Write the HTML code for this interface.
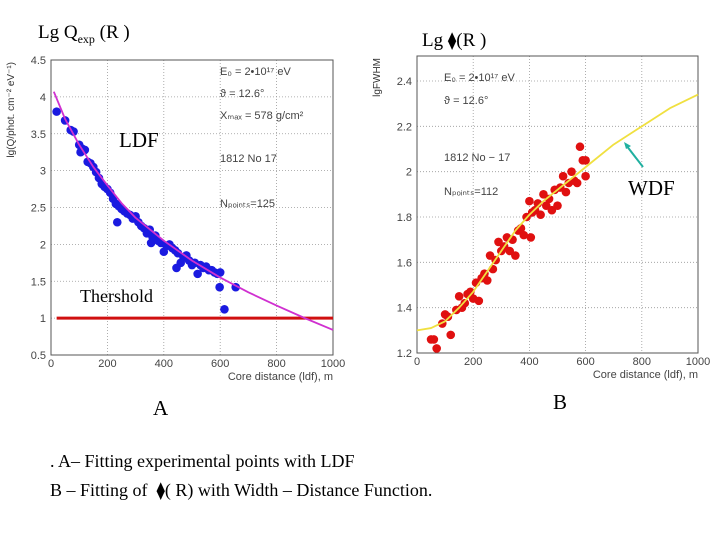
<!DOCTYPE html>
<html><head><meta charset="utf-8"><style>
body{margin:0;width:720px;height:540px;background:#fff;overflow:hidden;position:relative;font-family:"Liberation Serif",serif}
.t{position:absolute;font-family:"Liberation Serif",serif;color:#000;white-space:nowrap}
</style></head><body>
<svg id="s" width="720" height="540" style="position:absolute;left:0;top:0"></svg>
<div class="t" style="left:38px;top:22px;font-size:19px">Lg Q<sub style="font-size:12px">exp</sub> (R )</div>
<div class="t" style="left:422px;top:30px;font-size:19px">Lg <span style="font-size:17px">⧫</span>(R )</div>
<div class="t" style="left:119px;top:128px;font-size:21px">LDF</div>
<div class="t" style="left:628px;top:176px;font-size:21px">WDF</div>
<div class="t" style="left:80px;top:286px;font-size:18px">Thershold</div>
<div class="t" style="left:153px;top:396px;font-size:21px">A</div>
<div class="t" style="left:553px;top:390px;font-size:21px">B</div>
<div class="t" style="left:50px;top:451px;font-size:18px">. A– Fitting experimental points with LDF</div>
<div class="t" style="left:50px;top:480px;font-size:18px">B – Fitting of &nbsp;<span style="font-size:17px">⧫</span>( R) with Width – Distance Function.</div>
<script>
const ldfX=[20,50,70,80,100,105,110,120,130,140,150,160,170,180,190,200,210,220,230,235,240,250,260,270,280,290,300,310,320,330,340,350,355,360,370,380,390,400,410,420,430,440,445,450,460,470,480,490,500,510,520,530,540,550,560,570,580,590,600,598,615,655];
const ldfY=[3.8,3.68,3.55,3.53,3.35,3.25,3.3,3.28,3.12,3.1,3.05,2.98,2.9,2.82,2.78,2.75,2.7,2.62,2.55,2.3,2.52,2.48,2.45,2.42,2.4,2.35,2.38,2.3,2.25,2.22,2.15,2.2,2.02,2.1,2.12,2.05,2.02,1.9,1.98,2.0,1.95,1.92,1.68,1.88,1.75,1.82,1.85,1.78,1.72,1.75,1.6,1.72,1.68,1.7,1.65,1.65,1.62,1.6,1.62,1.42,1.12,1.42];
const ldfFitX=[10,50,100,150,200,250,300,400,500,600,700,800,900,1000];
const ldfFitY=[4.07,3.7,3.35,3.05,2.8,2.56,2.36,2.05,1.78,1.55,1.35,1.17,1.0,0.84];
const ldfXTicks=[0,200,400,600,800,1000];
const ldfYTicks=[0.5,1,1.5,2,2.5,3,3.5,4,4.5];
const threshold=1;
const wdfX=[50,60,70,90,100,110,120,140,150,160,170,180,190,200,210,220,230,240,250,260,270,280,290,300,310,320,330,340,350,360,370,380,390,400,405,410,420,430,440,450,460,470,480,490,500,510,520,530,540,550,560,570,580,590,600,600];
const wdfY=[1.26,1.26,1.22,1.33,1.37,1.36,1.28,1.39,1.45,1.4,1.42,1.46,1.47,1.44,1.51,1.43,1.53,1.55,1.52,1.63,1.57,1.61,1.69,1.65,1.67,1.71,1.65,1.7,1.63,1.74,1.75,1.72,1.8,1.87,1.71,1.82,1.83,1.86,1.81,1.9,1.85,1.88,1.83,1.92,1.85,1.93,1.98,1.91,1.95,2.0,1.96,1.95,2.11,2.05,1.98,2.05];
const wdfFitX=[0,50,100,150,200,250,300,350,400,450,500,600,700,800,900,1000];
const wdfFitY=[1.3,1.31,1.34,1.4,1.47,1.56,1.65,1.74,1.81,1.87,1.92,2.02,2.12,2.2,2.28,2.34];
const wdfXTicks=[0,200,400,600,800,1000];
const wdfYTicks=[1.2,1.4,1.6,1.8,2,2.2,2.4];

const svg=document.getElementById('s');const NS='http://www.w3.org/2000/svg';
function mk(tag,at,parent){const e=document.createElementNS(NS,tag);for(const k in at)e.setAttribute(k,at[k]);(parent||svg).appendChild(e);return e;}
function chart(o){
  const sx=v=>o.x0+(v-o.xmin)/(o.xmax-o.xmin)*(o.x1-o.x0);
  const sy=v=>o.yb+(v-o.ymin)/(o.ymax-o.ymin)*(o.yt-o.yb);
  const g=mk('g',{});
  
  
  o.xt.forEach(v=>{const l=mk('line',{x1:sx(v),x2:sx(v),y1:o.top,y2:o.yb,stroke:'#999','stroke-dasharray':'1,2','stroke-width':0.8},g);
    
    const t=mk('text',{x:sx(v),y:o.yb+12,'font-size':11,'text-anchor':'middle',fill:'#444','font-family':'Liberation Sans, sans-serif'},g);t.textContent=v;
    });
  o.yt2.forEach(v=>{const l=mk('line',{x1:o.x0,x2:o.x1,y1:sy(v),y2:sy(v),stroke:'#999','stroke-dasharray':'1,2','stroke-width':0.8},g);
    
    const t=mk('text',{x:o.x0-5,y:sy(v)+4,'font-size':11,'text-anchor':'end',fill:'#444','font-family':'Liberation Sans, sans-serif'},g);t.textContent=v;
    });
  const fr=mk('rect',{x:o.x0,y:o.top,width:o.x1-o.x0,height:o.yb-o.top,fill:'none',stroke:'#555','stroke-width':1},g);
  
  const xl=mk('text',{x:o.x1,y:o.yb+25,'font-size':11,'text-anchor':'end',fill:'#444','font-family':'Liberation Sans, sans-serif'},g);xl.textContent='Core distance (ldf), m';
  
  const yl=mk('text',{x:0,y:0,'font-size':10,'text-anchor':'end',fill:'#333','font-family':'Liberation Sans, sans-serif',transform:`translate(${o.ylx},${o.top+2}) rotate(-90)`},g);yl.textContent=o.ylab;
  
  o.notes.forEach(n=>{const t=mk('text',{x:n[0],y:n[1],'font-size':11,fill:'#444','font-family':'Liberation Sans, sans-serif'},g);t.textContent=n[2];
    });
  if(o.thr!==undefined){const l=mk('line',{x1:sx(20),x2:o.x1,y1:sy(o.thr),y2:sy(o.thr),stroke:'#d01010','stroke-width':3},g);
    }
  o.px.forEach((v,i)=>{const c=mk('circle',{cx:sx(v),cy:sy(o.py[i]),r:4.3,fill:o.pc},g);
    });
  const p=mk('polyline',{points:o.fx.map((v,i)=>sx(v)+','+sy(o.fy[i])).join(' '),fill:'none',stroke:o.fc,'stroke-width':1.8,'stroke-linejoin':'round'},g);
  
}
chart({name:'ldf-chart',x0:51,x1:333,xmin:0,xmax:1000,yb:355,yt:60,ymin:0.5,ymax:4.5,top:60,xt:ldfXTicks,yt2:ldfYTicks,ylx:14,ylab:'lg(Q/phot. cm⁻² eV⁻¹)',
 notes:[[220,75,'E₀ = 2•10¹⁷ eV'],[220,97,'ϑ = 12.6°'],[220,119,'Xₘₐₓ = 578 g/cm²'],[220,162,'1812 No 17'],[220,207,'Nₚₒᵢₙₜₛ=125']],
 thr:threshold,px:ldfX,py:ldfY,pc:'#1a1ae0',fx:ldfFitX,fy:ldfFitY,fc:'#d030d0'});
chart({name:'wdf-chart',x0:417,x1:698,xmin:0,xmax:1000,yb:353,yt:81,ymin:1.2,ymax:2.4,top:56,xt:wdfXTicks,yt2:wdfYTicks,ylx:380,ylab:'lgFWHM',
 notes:[[444,81,'E₀ = 2•10¹⁷ eV'],[444,104,'ϑ = 12.6°'],[444,161,'1812 No − 17'],[444,195,'Nₚₒᵢₙₜₛ=112']],
 px:wdfX,py:wdfY,pc:'#e01010',fx:wdfFitX,fy:wdfFitY,fc:'#f0e040'});
const a=mk('line',{x1:643,y1:167,x2:626,y2:145,stroke:'#20b0a0','stroke-width':2});

const ah=mk('polygon',{points:'624,142 631,146 626,149',fill:'#20b0a0'});

</script>
</body></html>
